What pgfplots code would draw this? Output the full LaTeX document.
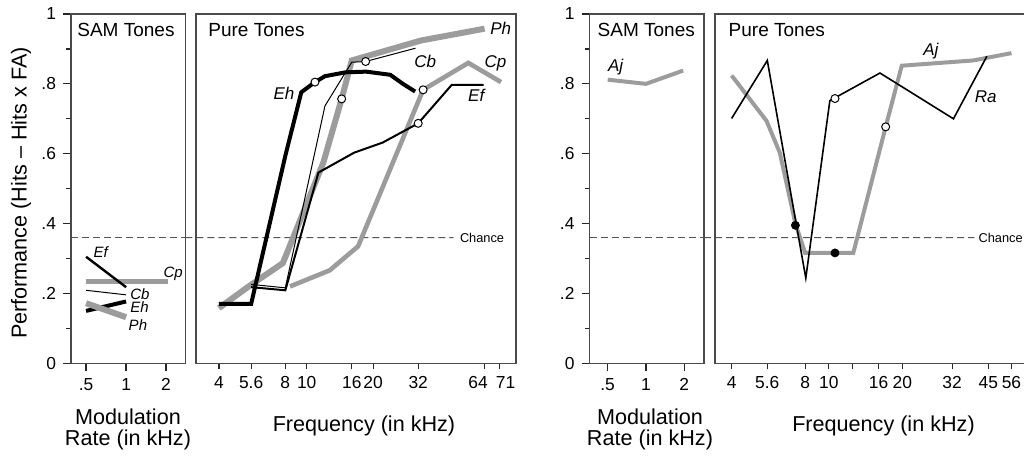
\documentclass[border=0pt]{standalone}
\usepackage{fontspec}
\setmainfont{Liberation Sans}
\usepackage{pgfplots}
\pgfplotsset{compat=1.18}
\definecolor{lgray}{HTML}{9C9C9C}
\definecolor{framecol}{HTML}{4A4A4A}
\definecolor{dashcol}{HTML}{555555}

\pgfplotsset{
  samaxis/.style={
    scale only axis, height=174.65pt, width=57.25pt,
    ymin=0, ymax=1, clip=false,
    axis line style={framecol, line width=0.75pt},
    tick align=outside, xtick pos=bottom, ytick pos=left,
    tick style={black!85, line width=0.6pt},
    ticklabel style={font=\fontsize{8.7}{10}\selectfont},
    xtick={0.5,1,2}, xticklabels={.5,1,2},
    ytick={0,0.2,0.4,0.6,0.8,1}, yticklabels={0,.2,.4,.6,.8,1},
    minor ytick={0.1,0.3,0.5,0.7,0.9},
    major tick length=4pt, minor tick length=2.3pt},
  pureaxis/.style={
    scale only axis, height=174.65pt, width=160pt,
    ymin=0, ymax=1, clip=false,
    axis line style={framecol, line width=0.75pt},
    tick align=outside, xtick pos=bottom, ytick pos=left,
    tick style={black!85, line width=0.6pt},
    ticklabel style={font=\fontsize{8.7}{10}\selectfont},
    ytick=\empty, major tick length=3pt},
  openmk/.style={only marks, mark=*, mark size=2pt, mark options={fill=white, draw=black, line width=0.5pt}},
  fullmk/.style={only marks, mark=*, mark size=2pt, mark options={fill=black, draw=black}},
}
\tikzset{
  chanceln/.style={dashcol, line width=0.45pt, dash pattern=on 3.5pt off 2pt},
  lab/.style={font=\fontsize{8.5}{10}\selectfont\itshape, inner sep=0pt, anchor=west},
  slab/.style={font=\fontsize{7.5}{9}\selectfont\itshape, inner sep=0pt, anchor=west},
  ttl/.style={font=\fontsize{9.5}{11}\selectfont, inner sep=0pt, anchor=base west},
  chtxt/.style={inner sep=0pt, anchor=west, font=\fontsize{6.4}{8}\selectfont},
  bigtxt/.style={anchor=base, font=\fontsize{10.8}{12}\selectfont},
}

\begin{document}
\begin{tikzpicture}[x=1pt,y=1pt]
\useasboundingbox (0,0) rectangle (512,228);

% left: SAM tones
\begin{axis}[xmode=log, log basis x=2, samaxis, anchor=south west, at={(35.5pt,46.35pt)}, xmin=0.385, xmax=2.8]
\draw[chanceln] (rel axis cs:0,0.36) -- (rel axis cs:1,0.36);
\addplot[lgray, line width=2.5pt] coordinates {(0.5,0.235) (1,0.235) (2.08,0.235)};
\addplot[black, line width=1.2pt] coordinates {(0.5,0.305) (1,0.218)};
\addplot[black, line width=0.5pt] coordinates {(0.5,0.209) (1,0.196)};
\addplot[black, line width=2pt] coordinates {(0.5,0.150) (1,0.177)};
\addplot[lgray, line width=3pt] coordinates {(0.5,0.172) (1,0.132)};
\node[ttl] at (rel axis cs:0.052,0.937) {SAM Tones};
\node[slab] at (axis cs:0.565,0.318) {Ef};
\node[slab] at (axis cs:1.9,0.257) {Cp};
\node[slab] at (axis cs:1.07,0.199) {Cb};
\node[slab] at (axis cs:1.07,0.161) {Eh};
\node[slab] at (axis cs:1.04,0.110) {Ph};
\end{axis}

% left: pure tones
\begin{axis}[xmode=log, log basis x=2, pureaxis, anchor=south west, at={(98pt,46.35pt)}, xmin=3.15, xmax=88.8,
  xtick={4,5.6,8,10,16,20,32,64,74.5},
  xticklabels={4,5.6,8,10,16,20,32,\makebox[0pt]{\kern-6.5pt 64},\makebox[0pt]{71\kern-6.5pt}}]
\draw[chanceln] (rel axis cs:-0.033,0.36) -- (axis cs:46.3,0.36);
\node[chtxt] at (axis cs:49.3,0.36) {Chance};
% Ph
\addplot[lgray, line width=3pt] coordinates {(4,0.158) (5.4,0.218) (7.8,0.287) (11.9,0.575) (14.4,0.757) (16,0.867) (32.9,0.924) (64,0.958)};
% Cp
\addplot[lgray, line width=2.3pt] coordinates {(8.4,0.22) (12.7,0.266) (17.1,0.335) (33.7,0.783) (54,0.86) (76,0.805)};
% Eh
\addplot[black, line width=2pt] coordinates {(4,0.17) (5.6,0.17) (8,0.594) (9.45,0.776) (10.9,0.805) (12.1,0.822) (15,0.833) (18.6,0.835) (23.9,0.826) (27.3,0.80) (31,0.778)};
% Cb
\addplot[black, line width=0.5pt] coordinates {(5.6,0.226) (8,0.216) (12.1,0.737) (16,0.862) (18.5,0.864) (31.1,0.902)};
% Ef
\addplot[black, line width=1pt] coordinates {(5.6,0.218) (8,0.209) (11.3,0.546) (16.4,0.603) (22.1,0.632) (32,0.687) (45.4,0.797) (63.4,0.797)};
\addplot[openmk] coordinates {(10.9,0.805) (18.5,0.864) (14.4,0.757) (33.7,0.783) (32,0.687)};
\node[ttl] at (rel axis cs:0.0375,0.937) {Pure Tones};
\node[lab] at (axis cs:67.7,0.96) {Ph};
\node[lab] at (axis cs:30.6,0.864) {Cb};
\node[lab] at (axis cs:63.7,0.86) {Cp};
\node[lab] at (axis cs:7.05,0.774) {Eh};
\node[lab] at (axis cs:53.7,0.766) {Ef};
\end{axis}

% right: SAM tones
\begin{axis}[xmode=log, log basis x=2, samaxis, anchor=south west, at={(294.75pt,46.35pt)}, xmin=0.36, xmax=2.86]
\draw[chanceln] (rel axis cs:0,0.36) -- (rel axis cs:1,0.36);
\addplot[lgray, line width=2pt] coordinates {(0.5,0.812) (1,0.80) (1.96,0.838)};
\node[ttl] at (rel axis cs:0.068,0.937) {SAM Tones};
\node[lab] at (axis cs:0.5,0.848) {Aj};
\end{axis}

% right: pure tones
\begin{axis}[xmode=log, log basis x=2, pureaxis, anchor=south west, at={(357.5pt,46.35pt)}, xmin=3.42, xmax=69.9,
  xtick={4,5.6,8,10,12.5,16,20,32,45,56}, xticklabels={4,5.6,8,10,,16,20,32,45,56}]
\draw[chanceln] (rel axis cs:-0.034,0.36) -- (axis cs:39.5,0.36);
\node[chtxt] at (axis cs:40.9,0.36) {Chance};
% Aj
\addplot[lgray, line width=2pt] coordinates {(4,0.824) (5.56,0.694) (6.3,0.603) (7.3,0.40) (8,0.316) (12.6,0.316) (17.1,0.677) (19.9,0.852) (39,0.867) (56,0.888)};
% Ra
\addplot[black, line width=0.8pt] coordinates {(4,0.701) (5.6,0.867) (8.05,0.244) (10.1,0.752) (16.2,0.831) (32.4,0.70) (44.4,0.879)};
\addplot[openmk] coordinates {(10.6,0.758) (17.1,0.677)};
\addplot[fullmk] coordinates {(7.3,0.395) (10.6,0.316)};
\node[ttl] at (rel axis cs:0.0416,0.937) {Pure Tones};
\node[lab] at (axis cs:24.3,0.893) {Aj};
\node[lab] at (axis cs:39.5,0.764) {Ra};
\end{axis}

% axis titles
\node[rotate=90, font=\fontsize{10.8}{12}\selectfont] at (10.5,131.5) {Performance (Hits – Hits x FA)};
\node[bigtxt] at (64,16) {Modulation};
\node[bigtxt] at (64,5.5) {Rate (in kHz)};
\node[bigtxt] at (182,12.5) {Frequency (in kHz)};
\node[bigtxt] at (325,16) {Modulation};
\node[bigtxt] at (325,5.5) {Rate (in kHz)};
\node[bigtxt] at (441.75,12.5) {Frequency (in kHz)};
\end{tikzpicture}
\end{document}
